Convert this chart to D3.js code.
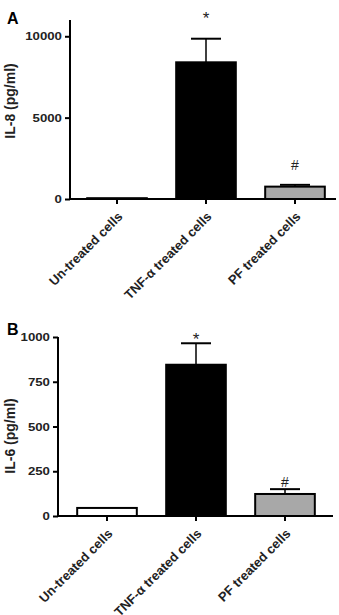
<!DOCTYPE html>
<html>
<head>
<meta charset="utf-8">
<script src="https://cdn.jsdelivr.net/npm/d3@7"></script>
<style>
  body { margin: 0; background: #fff; }
  svg text { font-family: "Liberation Sans", Arial, sans-serif; }
</style>
</head>
<body>
<svg width="339" height="615"></svg>
<script>
// groups on the x axis (same for both panels)
const groups = ["Un-treated cells", "TNF-\u03b1 treated cells", "PF treated cells"];
const barFills = ["#ffffff", "#000000", "#a8a8a8"];

// panel A: IL-8
const il8Mean = [50, 8400, 760];
const il8Err = [0, 1450, 110];
const il8Ticks = [0, 5000, 10000];
const il8Marks = ["", "*", "#"];
const il8MarkAt = [null, 11300, 2100];

// panel B: IL-6
const il6Mean = [45, 845, 123];
const il6Err = [0, 120, 27];
const il6Ticks = [0, 250, 500, 750, 1000];
const il6Marks = ["", "*", "#"];
const il6MarkAt = [null, 1005, 190];

const svg = d3.select("svg");

function panel(opt) {
    const g = svg.append("g");

    const y = d3.scaleLinear()
        .domain([0, opt.yMax])
        .range([opt.base, opt.top]);

    const x = d3.scaleBand()
        .domain(groups)
        .range([opt.bandLeft, opt.bandLeft + 267])
        .paddingInner(0.33)
        .paddingOuter(0.165);

    const data = groups.map((d, i) => ({
        name: d, mean: opt.mean[i], err: opt.err[i],
        fill: barFills[i], mark: opt.marks[i], markAt: opt.markAt[i]
    }));

    // y axis
    const yAx = g.append("g")
        .attr("transform", "translate(" + opt.axisX + ",0)")
        .call(d3.axisLeft(y).tickValues(opt.ticks).tickSize(5).tickPadding(2).tickFormat(d3.format("d")));
    yAx.select(".domain").remove();
    yAx.selectAll(".tick line").attr("stroke", "#000").attr("stroke-width", 2);
    yAx.selectAll(".tick text")
        .attr("font-size", 11.5)
        .attr("font-weight", "bold")
        .attr("fill", "#222")
        .attr("transform", "scale(1.15,1)");
    g.append("line")
        .attr("x1", opt.axisX).attr("x2", opt.axisX)
        .attr("y1", opt.top).attr("y2", opt.base + 1)
        .attr("stroke", "#000").attr("stroke-width", 2);

    // bars
    g.selectAll(".bar")
        .data(data)
        .enter().append("rect")
        .attr("x", d => x(d.name))
        .attr("y", d => y(d.mean))
        .attr("width", x.bandwidth())
        .attr("height", d => y(0) - y(d.mean))
        .attr("fill", d => d.fill)
        .attr("stroke", "#000")
        .attr("stroke-width", 2);

    // error bars (upper only)
    const eb = g.selectAll(".err")
        .data(data.filter(d => d.err > 0))
        .enter().append("g");
    eb.append("line")
        .attr("x1", d => x(d.name) + x.bandwidth() / 2)
        .attr("x2", d => x(d.name) + x.bandwidth() / 2)
        .attr("y1", d => y(d.mean))
        .attr("y2", d => y(d.mean + d.err))
        .attr("stroke", "#000").attr("stroke-width", 1.5);
    eb.append("line")
        .attr("x1", d => x(d.name) + x.bandwidth() / 2 - 15)
        .attr("x2", d => x(d.name) + x.bandwidth() / 2 + 15)
        .attr("y1", d => y(d.mean + d.err))
        .attr("y2", d => y(d.mean + d.err))
        .attr("stroke", "#000").attr("stroke-width", 2);

    // x axis
    const xAx = g.append("g")
        .attr("transform", "translate(0," + opt.base + ")")
        .call(d3.axisBottom(x).tickSize(5).tickFormat(""));
    xAx.select(".domain").remove();
    xAx.selectAll(".tick line").attr("stroke", "#000").attr("stroke-width", 2);
    g.append("line")
        .attr("x1", opt.axisX - 1).attr("x2", opt.axisRight)
        .attr("y1", opt.base).attr("y2", opt.base)
        .attr("stroke", "#000").attr("stroke-width", 2);

    // rotated group labels
    g.selectAll(".xlab")
        .data(groups)
        .enter().append("text")
        .attr("transform", d => "translate(" + (x(d) + x.bandwidth() / 2) + "," + (opt.base + 12) + ") rotate(-45)")
        .attr("text-anchor", "end")
        .attr("dy", "0.7em")
        .attr("font-size", 13)
        .attr("font-weight", "bold")
        .attr("fill", "#222")
        .text(d => d);

    // significance marks
    g.selectAll(".sig")
        .data(data.filter(d => d.mark))
        .enter().append("text")
        .attr("x", d => x(d.name) + x.bandwidth() / 2)
        .attr("y", d => y(d.markAt))
        .attr("dy", d => d.mark === "*" ? "0.55em" : "0.35em")
        .attr("text-anchor", "middle")
        .attr("font-size", d => d.mark === "*" ? 17 : 14)
        .attr("fill", "#222")
        .text(d => d.mark);

    // y title
    g.append("text")
        .attr("transform", "translate(15," + opt.titleY + ") rotate(-90)")
        .attr("text-anchor", "middle")
        .attr("font-size", 14)
        .attr("font-weight", "bold")
        .attr("fill", "#222")
        .text(opt.title);

    // panel letter
    g.append("text")
        .attr("x", 7).attr("y", opt.letterY)
        .attr("font-size", 16)
        .attr("font-weight", "bold")
        .text(opt.letter);
}

panel({
    mean: il8Mean, err: il8Err, ticks: il8Ticks, marks: il8Marks, markAt: il8MarkAt,
    yMax: 11000, top: 20, base: 199, axisX: 70, axisRight: 336, bandLeft: 72.5,
    title: "IL-8 (pg/ml)", titleY: 101, letter: "A", letterY: 24
});

panel({
    mean: il6Mean, err: il6Err, ticks: il6Ticks, marks: il6Marks, markAt: il6MarkAt,
    yMax: 1000, top: 337, base: 516, axisX: 58, axisRight: 333, bandLeft: 62.5,
    title: "IL-6 (pg/ml)", titleY: 436, letter: "B", letterY: 335
});
</script>
</body>
</html>
